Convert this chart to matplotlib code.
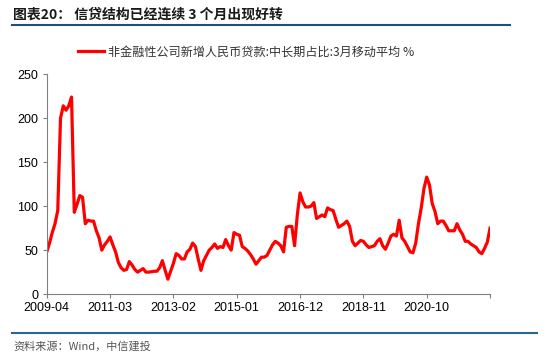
import matplotlib.pyplot as plt
import numpy as np

plt.rcParams['font.family'] = ['Noto Sans CJK SC', 'DejaVu Sans']

# monthly values, 2009-04 .. 2022-09 (3-month moving average, %)
values = [
    48, 58, 70, 80, 95, 200, 214, 209, 214, 224,
    93, 102, 112, 110, 80, 84, 83, 83, 72, 64,
    50, 56, 60, 65, 56, 48, 36, 30, 27, 28,
    37, 33, 28, 25, 27, 29, 25, 25, 25.5, 26,
    26, 30, 38, 27, 17, 26, 35, 46, 44, 40,
    40, 48, 51, 58, 54, 40, 27, 38, 44, 50,
    53, 57, 52, 54, 53, 62, 55, 50, 70, 68,
    67, 54, 52, 49, 45, 40, 34, 38, 42, 42,
    44, 50, 56, 60, 58, 55, 48, 76, 77, 77,
    55, 90, 115, 105, 99, 99, 100, 104, 86, 88,
    90, 88, 98, 96, 95, 85, 76, 78, 80, 83,
    77, 60, 55, 58, 61, 60, 56, 53, 54, 55,
    60, 63, 55, 51, 58, 66, 68, 66, 84, 64,
    60, 54, 48, 47, 58, 80, 98, 120, 133, 124,
    103, 94, 80, 83, 83, 78, 72, 72, 72, 80,
    73, 68, 60, 60, 57, 55, 53, 48, 46, 52,
    59, 75,
]
tick_labels = ['2009-04', '2011-03', '2013-02', '2015-01', '2016-12', '2018-11', '2020-10', '']
series_name = '非金融性公司新增人民币贷款:中长期占比:3月移动平均 %'

fig = plt.figure(figsize=(5.5, 3.6), dpi=100)
ax = fig.add_axes([0.085, 0.183, 0.806, 0.611])

x = np.arange(len(values))
ax.plot(x, values, color='#ff0000', lw=2.3, label=series_name)

ax.set_xlim(0, 161)
ax.set_ylim(0, 250)
ax.set_xticks(np.arange(0, 162, 23))
ax.set_xticklabels(tick_labels, fontfamily='Liberation Sans', fontsize=9)
ax.set_yticks([0, 50, 100, 150, 200, 250])
ax.set_yticklabels(['0', '50', '100', '150', '200', '250'], fontfamily='Liberation Sans', fontsize=9)
for s in ['top', 'right']:
    ax.spines[s].set_visible(False)
for s in ['left', 'bottom']:
    ax.spines[s].set_color('#808080')
    ax.spines[s].set_linewidth(0.8)
ax.tick_params(direction='out', length=3, color='#808080', width=0.8, pad=3)

# legend above the plot
fig.legend(loc='center', bbox_to_anchor=(0.447, 0.856), frameon=False, fontsize=8.7,
           handlelength=2.2, handletextpad=0.3, labelcolor='#333333')

# title and rules
fig.text(0.024, 0.958, '图表20： 信贷结构已经连续 3 个月出现好转', fontsize=10, fontweight='bold',
         color='#1a1a1a', va='center')
fig.add_artist(plt.Line2D([0.022, 0.928], [0.93, 0.93], color='#1f4e79', lw=1.5))
fig.add_artist(plt.Line2D([0.022, 0.976], [0.075, 0.075], color='#2e6390', lw=1.5))
fig.text(0.024, 0.038, '资料来源：Wind，中信建投', fontsize=8, style='italic', color='#555555', va='center')

fig.savefig('out.png', dpi=100)
